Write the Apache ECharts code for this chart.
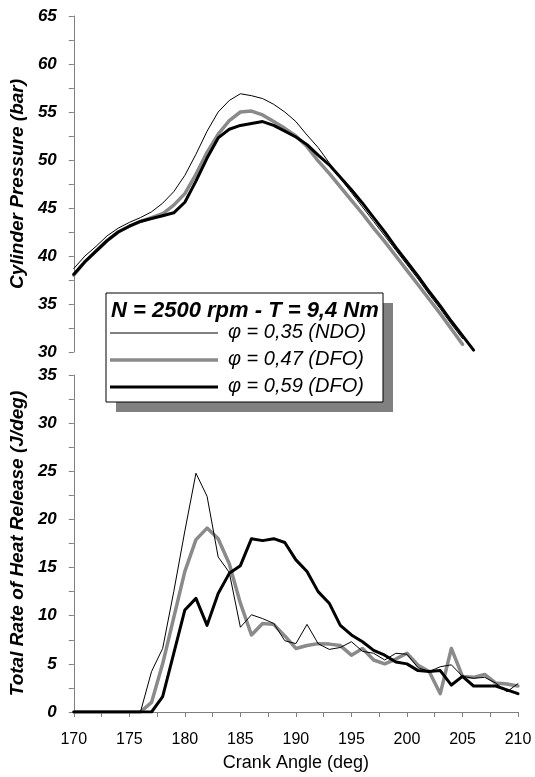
<!DOCTYPE html>
<html><head><meta charset="utf-8">
<script src="https://cdn.jsdelivr.net/npm/echarts@6/dist/echarts.min.js"></script>
<style>html,body{margin:0;padding:0;background:#fff}#c{width:535px;height:777px}</style>
</head><body><div id="c"></div><script>
// ---- Data ----
const angleP035 = [170,171,172,173,174,175,176,177,178,179,180,181,182,183,184,185,186,187,188,189,190,191,192,193,194,195,196,197,198,199,200,201,202,203,204,205];
const pressP035 = [38.7,40.0,41.0,42.1,42.9,43.5,44.0,44.6,45.5,46.7,48.4,50.6,53.0,55.0,56.2,56.9,56.7,56.4,55.8,55.0,54.0,52.6,51.3,49.7,48.1,46.6,45.1,43.6,42.1,40.6,39.1,37.6,36.0,34.5,32.9,31.4];
const angleP047 = [170,171,172,173,174,175,176,177,178,179,180,181,182,183,184,185,186,187,188,189,190,191,192,193,194,195,196,197,198,199,200,201,202,203,204,205];
const pressP047 = [38.0,39.4,40.5,41.6,42.5,43.1,43.6,44.0,44.4,45.3,46.5,48.5,50.8,52.7,54.1,55.0,55.1,54.7,54.0,53.3,52.5,51.4,49.9,48.6,47.2,45.8,44.4,42.9,41.5,40.0,38.5,37.0,35.5,34.0,32.4,30.8];
const angleP059 = [170,171,172,173,174,175,176,177,178,179,180,181,182,183,184,185,186,187,188,189,190,191,192,193,194,195,196,197,198,199,200,201,202,203,204,205,206];
const pressP059 = [38.1,39.4,40.5,41.6,42.5,43.1,43.6,43.9,44.2,44.5,45.6,47.8,50.2,52.3,53.2,53.6,53.8,54.0,53.6,53.0,52.4,51.6,50.5,49.5,48.2,46.9,45.5,44.0,42.5,40.9,39.4,37.9,36.3,34.8,33.2,31.7,30.2];

const angleH = [170,171,172,173,174,175,176,177,178,179,180,181,182,183,184,185,186,187,188,189,190,191,192,193,194,195,196,197,198,199,200,201,202,203,204,205,206,207,208,209,210];
const hrrP035 = [0,0,0,0,0,0,0,4.2,6.6,12.5,18.8,24.8,22.4,16.1,14.5,8.8,10.1,9.7,9.2,7.4,7.1,9.1,7.1,6.5,6.7,7.3,6.3,6.1,5.4,6.1,6.0,4.6,4.2,4.7,4.9,3.7,3.5,3.6,3.0,2.1,2.95];
const hrrP047 = [0,0,0,0,0,0,0,1.0,5.0,9.8,14.6,17.9,19.1,18.0,15.4,11.3,8.0,9.2,9.1,7.9,6.6,6.9,7.1,7.05,6.9,5.9,6.6,5.4,5.0,5.5,6.1,4.85,4.2,1.9,6.6,3.7,3.6,3.9,3.0,2.9,2.7];
const hrrP059 = [0,0,0,0,0,0,0,0,1.6,6.1,10.6,11.8,9.0,12.3,14.4,15.2,18.0,17.8,18.0,17.6,15.8,14.6,12.5,11.3,9.0,8.0,7.3,6.4,5.9,5.2,5.0,4.3,4.2,4.3,2.8,3.7,2.7,2.7,2.7,2.3,1.9];

const seriesNames = ['φ = 0,35 (NDO)', 'φ = 0,47 (DFO)', 'φ = 0,59 (DFO)'];
const legendTitle = 'N = 2500 rpm - T = 9,4 Nm';
const yNameTop = 'Cylinder Pressure (bar)';
const yNameBottom = 'Total Rate of Heat Release (J/deg)';
const xName = 'Crank Angle (deg)';

// ---- Styling ----
const FONT = '"Liberation Sans", Arial, sans-serif';
const AX = '#808080';
const styles = [
  {color: '#000000', width: 1},
  {color: '#8a8a8a', width: 3.5},
  {color: '#000000', width: 3}
];
const pair = (xs, ys) => xs.map((x, i) => [x, ys[i]]);

const yAxisBase = (min, max, name) => ({
  type: 'value', min: min, max: max, interval: 2.5,
  name: name, nameLocation: 'middle', nameGap: 32,
  nameTextStyle: {fontFamily: FONT, fontSize: 19, fontWeight: 'bold', fontStyle: 'italic', color: '#000'},
  axisLine: {show: true, lineStyle: {color: AX, width: 1}},
  axisTick: {show: true, length: 5, lineStyle: {color: AX}},
  splitLine: {show: false},
  axisLabel: {
    margin: 17, fontFamily: FONT, fontSize: 17, fontWeight: 'bold', fontStyle: 'italic', color: '#000',
    formatter: v => (v % 5 === 0 ? String(v) : '')
  }
});

const mkLine = (name, data, xi, yi, st, z) => ({
  name: name, type: 'line', xAxisIndex: xi, yAxisIndex: yi, data: data,
  showSymbol: false, symbol: 'none', smooth: false, z: z,
  lineStyle: {color: st.color, width: st.width, join: 'round', cap: 'round'},
  itemStyle: {color: st.color}, animation: false
});

const chart = echarts.init(document.getElementById('c'), null, {renderer: 'canvas'});

const LX = 106, LY = 293, LW = 277, LH = 109;
const rows = [333, 360, 387];
const legendGraphics = [
  {type: 'rect', shape: {x: LX + 10, y: LY + 10, width: LW, height: LH}, style: {fill: '#808080'}, z: 100},
  {type: 'rect', shape: {x: LX, y: LY, width: LW, height: LH}, style: {fill: '#fff', stroke: '#000', lineWidth: 1}, z: 101},
  {type: 'text', x: LX + 5, y: 311, z: 102,
   style: {text: legendTitle, font: 'italic bold 22px ' + FONT, fill: '#000', textVerticalAlign: 'middle', verticalAlign: 'middle'}}
];
seriesNames.forEach((n, i) => {
  legendGraphics.push({type: 'line', z: 102, shape: {x1: LX + 4, y1: rows[i], x2: LX + 112, y2: rows[i]},
    style: {stroke: styles[i].color, lineWidth: styles[i].width}});
  legendGraphics.push({type: 'text', x: 228, y: rows[i] - 1, z: 102,
    style: {text: n, font: 'italic 20px ' + FONT, fill: '#000', textVerticalAlign: 'middle', verticalAlign: 'middle'}});
});

chart.setOption({
  animation: false,
  backgroundColor: '#fff',
  grid: [
    {left: 69, right: 17, top: 16, height: 336},
    {left: 69, right: 17, top: 375, height: 337}
  ],
  xAxis: [
    {gridIndex: 0, type: 'value', min: 170, max: 210, interval: 2.5, show: false},
    {gridIndex: 1, type: 'value', min: 170, max: 210, interval: 2.5,
     name: xName, nameLocation: 'middle', nameGap: 42,
     nameTextStyle: {fontFamily: FONT, fontSize: 18, color: '#000'},
     axisLine: {show: true, onZero: false, lineStyle: {color: AX, width: 1}},
     axisTick: {show: true, length: 5, lineStyle: {color: AX}},
     splitLine: {show: false},
     axisLabel: {margin: 20, fontFamily: FONT, fontSize: 16, color: '#000',
       formatter: v => (v % 5 === 0 ? String(v) : '')}}
  ],
  yAxis: [
    Object.assign(yAxisBase(30, 65, yNameTop), {gridIndex: 0}),
    Object.assign(yAxisBase(0, 35, yNameBottom), {gridIndex: 1})
  ],
  series: [
    mkLine(seriesNames[0], pair(angleP035, pressP035), 0, 0, styles[0], 3),
    mkLine(seriesNames[1], pair(angleP047, pressP047), 0, 0, styles[1], 2),
    mkLine(seriesNames[2], pair(angleP059, pressP059), 0, 0, styles[2], 4),
    mkLine(seriesNames[0], pair(angleH, hrrP035), 1, 1, styles[0], 3),
    mkLine(seriesNames[1], pair(angleH, hrrP047), 1, 1, styles[1], 2),
    mkLine(seriesNames[2], pair(angleH, hrrP059), 1, 1, styles[2], 4)
  ],
  graphic: legendGraphics
});
</script></body></html>
